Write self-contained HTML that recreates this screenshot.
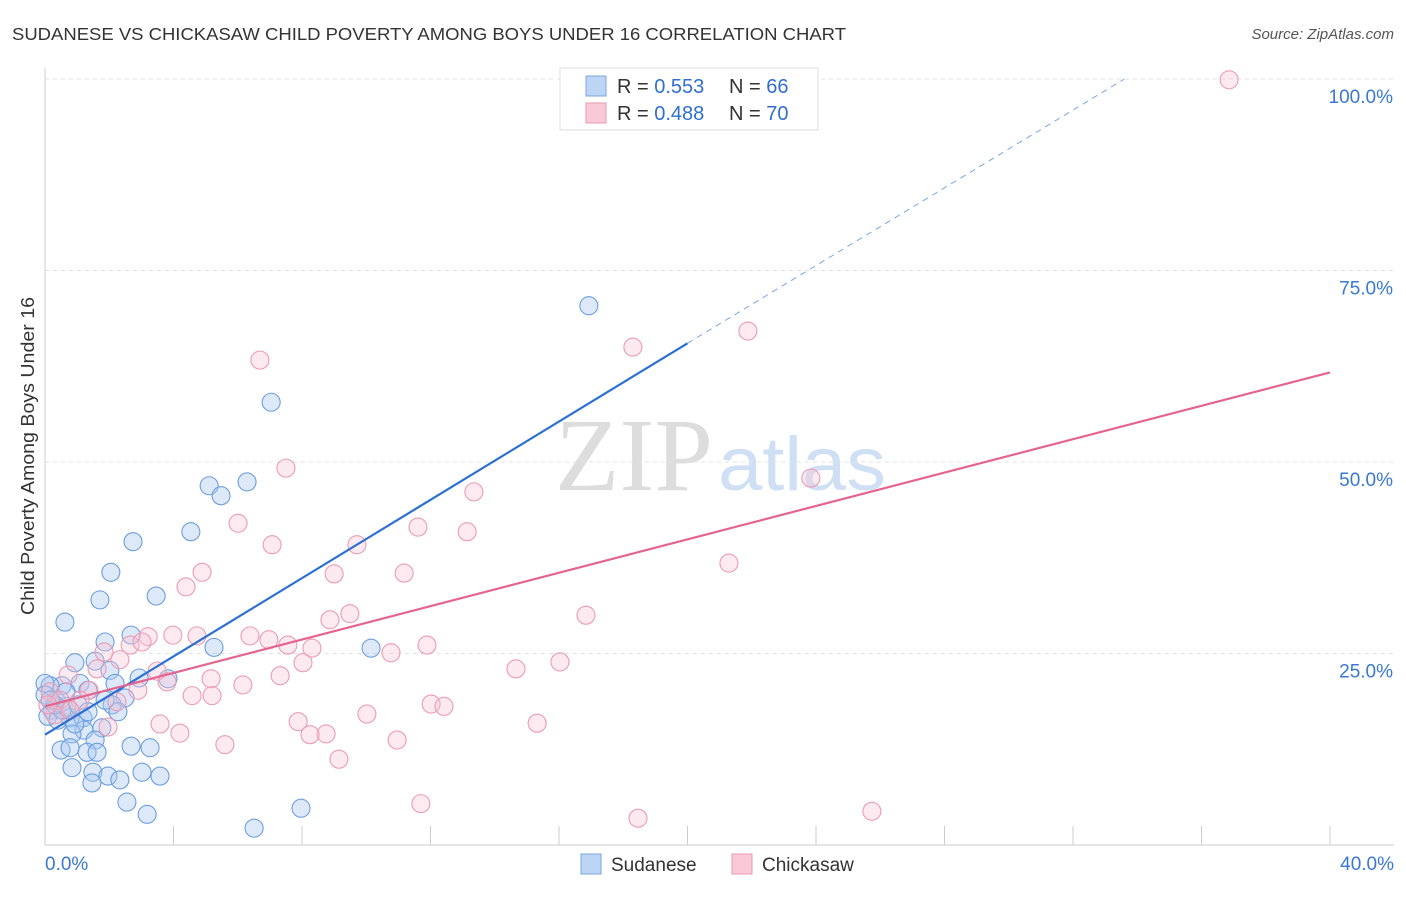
<!DOCTYPE html>
<html><head><meta charset="utf-8"><style>
body{margin:0;background:#fff;font-family:"Liberation Sans",sans-serif}
#c{position:relative;width:1406px;height:892px}
</style></head><body><div id="c">
<svg id="s" width="1406" height="892" xmlns="http://www.w3.org/2000/svg">
<text x="12" y="40" font-size="17.5" fill="#333" textLength="834" lengthAdjust="spacingAndGlyphs">SUDANESE VS CHICKASAW CHILD POVERTY AMONG BOYS UNDER 16 CORRELATION CHART</text>
<text x="1394" y="39" font-size="15" fill="#555" font-style="italic" text-anchor="end">Source: ZipAtlas.com</text>
<text x="34" y="456" font-size="18" fill="#333" text-anchor="middle" textLength="318" lengthAdjust="spacingAndGlyphs" transform="rotate(-90 34 456)">Child Poverty Among Boys Under 16</text>
<text x="634" y="490" font-size="104" fill="#ddd" font-family="Liberation Serif" text-anchor="middle" textLength="158" lengthAdjust="spacingAndGlyphs">ZIP</text>
<text x="802" y="490" font-size="76" fill="#cfe0f5" text-anchor="middle" textLength="168" lengthAdjust="spacingAndGlyphs">atlas</text>
<g id="grid"></g><g id="pts"></g><g id="lines"></g>
<g>
<rect x="560" y="68" width="258" height="62" fill="#fff" stroke="#ddd"/>
<rect x="586" y="76" width="20" height="20" fill="#bdd5f5" stroke="#7aa7e0"/>
<rect x="586" y="103" width="20" height="20" fill="#f9c9d7" stroke="#e99ab2"/>
<text x="617" y="93" font-size="20" fill="#333">R = <tspan fill="#2f6fd0">0.553</tspan></text>
<text x="729" y="93" font-size="20" fill="#333">N = <tspan fill="#2f6fd0">66</tspan></text>
<text x="617" y="120" font-size="20" fill="#333">R = <tspan fill="#2f6fd0">0.488</tspan></text>
<text x="729" y="120" font-size="20" fill="#333">N = <tspan fill="#2f6fd0">70</tspan></text>
</g>
<g>
<rect x="581" y="854" width="20" height="20" fill="#bdd5f5" stroke="#7aa7e0"/>
<text x="611" y="871" font-size="19" fill="#333">Sudanese</text>
<rect x="732" y="854" width="20" height="20" fill="#f9c9d7" stroke="#e99ab2"/>
<text x="762" y="871" font-size="19" fill="#333">Chickasaw</text>
</g>
</svg></div>
<script>
const xTicks=[0,4,8,12,16,20,24,28,32,36,40];
const yTicks=[25,50,75,100];
const bluePx=[[589,306],[271,402],[209,486],[221,496],[247,482],[191,532],[133,542],[111,572],[156,596],[100,600],[65,622],[131,635],[105,642],[214,647],[371,648],[75,663],[95,661],[110,670],[139,678],[168,679],[80,683],[62,686],[115,683],[50,686],[88,690],[125,698],[56,700],[112,705],[67,706],[45,683],[52,710],[48,716],[70,718],[83,718],[58,720],[84,730],[102,728],[72,734],[95,740],[131,746],[150,748],[61,750],[70,748],[87,752],[97,752],[72,768],[93,772],[108,776],[120,780],[142,772],[160,776],[92,783],[127,802],[147,814],[254,828],[301,808],[45,695],[62,710],[78,705],[105,700],[55,705],[66,692],[88,712],[118,712],[75,724],[50,700]];
const pinkPx=[[1229,80],[748,331],[633,347],[260,360],[286,468],[811,478],[474,492],[238,523],[418,527],[467,532],[272,545],[357,545],[729,563],[202,572],[334,574],[404,573],[186,587],[350,614],[586,615],[330,620],[250,636],[148,637],[173,635],[197,636],[269,640],[288,645],[312,648],[427,645],[130,645],[142,642],[104,652],[391,653],[560,662],[516,669],[157,671],[97,669],[120,660],[68,675],[280,676],[211,679],[303,663],[167,682],[243,685],[138,690],[89,690],[192,696],[212,696],[117,702],[431,704],[444,706],[160,724],[298,722],[367,714],[180,733],[326,734],[537,723],[108,727],[225,745],[310,735],[397,740],[339,759],[421,804],[638,818],[872,811],[50,692],[60,700],[80,700],[55,715],[70,710],[48,705]];
const blueX=bluePx.map(p=>+((p[0]-45)/1285*40).toFixed(2));
const blueY=bluePx.map(p=>+((845-p[1])/766*100).toFixed(1));
const pinkX=pinkPx.map(p=>+((p[0]-45)/1285*40).toFixed(2));
const pinkY=pinkPx.map(p=>+((845-p[1])/766*100).toFixed(1));
const blueLine=[[0,14.4],[20,65.5],[33.6,100]];
const pinkLine=[[0,18.1],[40,61.7]];
const X=v=>45+v/40*1285, Y=v=>845-v/100*766;
const NS="http://www.w3.org/2000/svg";
function mk(t,a,par){const e=document.createElementNS(NS,t);for(const k in a)e.setAttribute(k,a[k]);document.getElementById(par).appendChild(e);return e;}
let e=mk('line',{x1:45,y1:68,x2:45,y2:845,stroke:'#ccc'},'grid');


e=mk('line',{x1:45,y1:845,x2:1394,y2:845,stroke:'#ccc'},'grid');


yTicks.forEach(v=>{
 e=mk('line',{x1:45,y1:Y(v),x2:1394,y2:Y(v),stroke:'#e2e2e2','stroke-dasharray':'4,4'},'grid');
 
 
 e=mk('text',{x:1393,y:Y(v)+24,'font-size':19,fill:'#3a78d4','text-anchor':'end'},'grid');
 e.textContent=v.toFixed(1)+'%';
 
 
});
xTicks.forEach(v=>{
 e=mk('line',{x1:X(v),y1:826,x2:X(v),y2:845,stroke:'#ccc'},'grid');
 
 
});
[[0,'start',45],[40,'end',1394]].forEach(([v,a,x])=>{
 e=mk('text',{x:x,y:870,'font-size':19,fill:'#3a78d4','text-anchor':a},'grid');
 e.textContent=v.toFixed(1)+'%';
 
 
});
blueX.forEach((x,i)=>{
 e=mk('circle',{cx:X(x),cy:Y(blueY[i]),r:9,fill:'rgba(170,200,240,0.4)',stroke:'#6b9edf','stroke-width':1.1},'pts');
 
 
});
pinkX.forEach((x,i)=>{
 e=mk('circle',{cx:X(x),cy:Y(pinkY[i]),r:9,fill:'rgba(248,195,212,0.35)',stroke:'#eb9bb5','stroke-width':1.1},'pts');
 
 
});
e=mk('line',{x1:X(blueLine[0][0]),y1:Y(blueLine[0][1]),x2:X(blueLine[1][0]),y2:Y(blueLine[1][1]),stroke:'#2a6fd6','stroke-width':2.2},'lines');


e=mk('line',{x1:X(blueLine[1][0]),y1:Y(blueLine[1][1]),x2:X(blueLine[2][0]),y2:Y(blueLine[2][1]),stroke:'#7aa7e0','stroke-width':1,'stroke-dasharray':'6,5'},'lines');


e=mk('line',{x1:X(pinkLine[0][0]),y1:Y(pinkLine[0][1]),x2:X(pinkLine[1][0]),y2:Y(pinkLine[1][1]),stroke:'#e5648f','stroke-width':2.2},'lines');


</script></body></html>
